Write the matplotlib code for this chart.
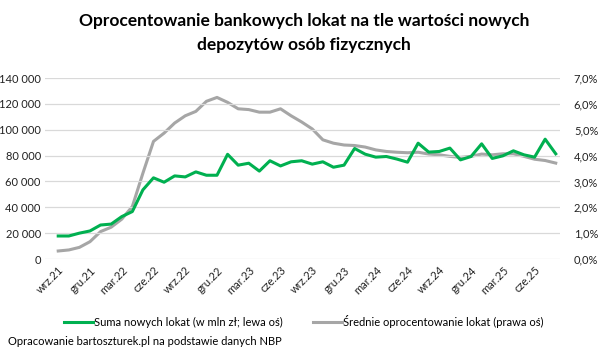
import matplotlib.pyplot as plt
import matplotlib.ticker as mticker
import numpy as np

plt.rcParams['font.family'] = ['Lato', 'DejaVu Sans']

# monthly data, wrz.21 - sie.25
months_pl = ['sty', 'lut', 'mar', 'kwi', 'maj', 'cze',
             'lip', 'sie', 'wrz', 'paź', 'lis', 'gru']
labels = []
for i in range(48):
    m = (8 + i) % 12
    y = 21 + (8 + i) // 12
    labels.append(f"{months_pl[m]}.{y}")

# new deposits, mln zl (left axis)
deposits = [17800, 17800, 20000, 21700, 26300, 27000, 32800, 36700, 53500, 62800,
            59400, 64300, 63500, 67400, 64800, 64800, 81000, 72600, 74100, 68000,
            76000, 72000, 75200, 76000, 73400, 75200, 71000, 72600, 85500, 81100,
            78800, 79300, 77300, 74900, 89600, 82700, 83200, 85800, 76700, 79300,
            89100, 77800, 79800, 83700, 80600, 78800, 92700, 81400]

# average deposit rate, % (right axis)
rates = [0.31, 0.35, 0.45, 0.67, 1.06, 1.23, 1.54, 2.03, 3.32, 4.55,
         4.87, 5.26, 5.54, 5.71, 6.10, 6.25, 6.06, 5.81, 5.78, 5.68,
         5.68, 5.81, 5.54, 5.30, 5.03, 4.61, 4.48, 4.41, 4.39, 4.33,
         4.22, 4.16, 4.13, 4.11, 4.13, 4.06, 4.03, 3.97, 3.93, 3.97,
         4.06, 4.03, 4.07, 4.07, 3.97, 3.86, 3.81, 3.71]

green = '#00B050'
grey = '#A6A6A6'
x = np.arange(len(deposits))

fig = plt.figure(figsize=(6.08, 3.63), dpi=100)
ax = fig.add_axes([0.074, 0.2865, 0.847, 0.4985])
ax2 = ax.twinx()

ax.set_ylim(0, 140000)
ax2.set_ylim(0, 7)
ax.set_xlim(-1.25, 47.4)
ax.yaxis.set_major_locator(mticker.MultipleLocator(20000))
ax2.yaxis.set_major_locator(mticker.MultipleLocator(1))
ax.yaxis.set_major_formatter(mticker.FuncFormatter(lambda v, p: f"{int(v):,}".replace(',', ' ')))
ax2.yaxis.set_major_formatter(mticker.FuncFormatter(lambda v, p: f"{v:.1f}%".replace('.', ',')))
ax.grid(axis='y', color='#D9D9D9', linewidth=0.9)
ax.set_axisbelow(True)

l1, = ax.plot(x, deposits, color=green, linewidth=2.2, label='Suma nowych lokat (w mln zł; lewa oś)', zorder=3)
l2, = ax2.plot(x, rates, color=grey, linewidth=2.2, label='Średnie oprocentowanie lokat (prawa oś)', zorder=2)
ax.set_zorder(ax2.get_zorder() + 1)
ax.patch.set_visible(False)

ticks = x[::3]
ax.set_xticks(ticks)
ax.set_xticklabels([labels[i] for i in ticks], rotation=45, ha='right', rotation_mode='anchor', fontsize=8)

for a in (ax, ax2):
    for s in a.spines.values():
        s.set_visible(False)
    a.tick_params(length=0, labelsize=8, colors='#222222')
ax.tick_params(axis='y', pad=3)
ax2.tick_params(axis='y', pad=10)
ax.tick_params(axis='x', pad=4)

fig.suptitle('Oprocentowanie bankowych lokat na tle wartości nowych\ndepozytów osób fizycznych',
             x=0.5, y=0.965, fontsize=12.5, fontweight='bold', linespacing=1.65)

fig.legend(handles=[l1, l2], loc='center', bbox_to_anchor=(0.5, 0.115), ncol=2, frameon=False,
           fontsize=8, handlelength=2.6, handletextpad=0.1, columnspacing=2.7)
fig.text(0.013, 0.058, 'Opracowanie bartoszturek.pl na podstawie danych NBP', fontsize=8, va='center')

fig.savefig('out.png', dpi=100)
